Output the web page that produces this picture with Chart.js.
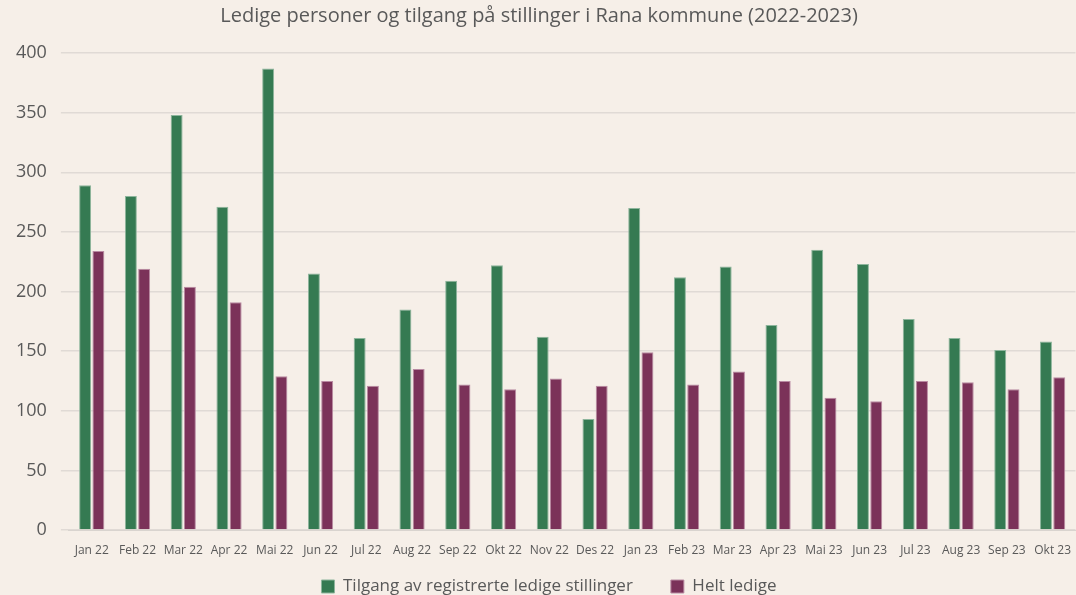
<!DOCTYPE html>
<html>
<head>
<meta charset="utf-8">
<script src="https://cdn.jsdelivr.net/npm/chart.js@4/dist/chart.umd.min.js"></script>
<style>
  html, body { margin: 0; padding: 0; background: #F6EFE8; }
  #wrap { width: 1076px; height: 595px; }
</style>
</head>
<body>
<div id="wrap"><canvas id="ledigeChart"></canvas></div>
<script>
// Måneder og verdier
const months = ["Jan 22", "Feb 22", "Mar 22", "Apr 22", "Mai 22", "Jun 22", "Jul 22", "Aug 22", "Sep 22", "Okt 22", "Nov 22",
  "Des 22", "Jan 23", "Feb 23", "Mar 23", "Apr 23", "Mai 23", "Jun 23", "Jul 23", "Aug 23", "Sep 23", "Okt 23"];
const tilgang = [289, 280, 348, 271, 387, 215, 161, 185, 209, 222, 162, 93, 270, 212, 221, 172, 235, 223, 177, 161, 151, 158];
const heltLedige = [234, 219, 204, 191, 129, 125, 121, 135, 122, 118, 127, 121, 149, 122, 133, 125, 111, 108, 125, 124, 118, 128];
const yTicks = [0, 50, 100, 150, 200, 250, 300, 350, 400];

const textColor = "#595959";
const fontFam = "'Open Sans', 'Noto Sans', sans-serif";

// Legenden: stort mellomrom mellom elementene, men lav høyde
const compactLegend = {
  id: "compactLegend",
  afterInit(chart) {
    const lg = chart.legend;
    const fit = lg.fit.bind(lg);
    const drawItems = lg._draw.bind(lg);
    lg.fit = function () {
      fit();
      this.height -= 30;
    };
    lg._draw = function () {
      chart.ctx.save();
      chart.ctx.translate(10, -20);
      drawItems();
      chart.ctx.restore();
    };
  },
};

const ctx = document.getElementById("ledigeChart").getContext("2d");
const chart = new Chart(ctx, {
  type: "bar",
  data: {
    labels: months,
    datasets: [
      {
        label: "Tilgang av registrerte ledige stillinger",
        data: tilgang,
        backgroundColor: "#357A52",
        borderColor: "#8DB59C",
        borderWidth: 1,
        categoryPercentage: 0.58,
        barPercentage: 0.9,
      },
      {
        label: "Helt ledige",
        data: heltLedige,
        backgroundColor: "#7B3259",
        borderColor: "#B98AA2",
        borderWidth: 1,
        categoryPercentage: 0.58,
        barPercentage: 0.9,
      },
    ],
  },
  options: {
    responsive: true,
    maintainAspectRatio: false,
    animation: false,
    layout: { padding: { left: 2, right: 0, top: 4, bottom: 0 } },
    plugins: {
      title: {
        display: true,
        text: "Ledige personer og tilgang på stillinger i Rana kommune (2022-2023)",
        color: textColor,
        font: { family: fontFam, size: 20, weight: "normal" },
        padding: { top: 0, bottom: 25 },
      },
      legend: {
        position: "bottom",
        labels: {
          color: textColor,
          boxWidth: 13,
          boxHeight: 13,
          padding: 38,
          font: { family: fontFam, size: 17 },
        },
      },
      tooltip: { enabled: true },
    },
    scales: {
      x: {
        grid: { display: false },
        border: { color: "#D9D4CF" },
        afterFit: (scale) => {
          scale.height = 30;
        },
        ticks: {
          color: textColor,
          maxRotation: 0,
          autoSkip: false,
          padding: 5,
          font: { family: fontFam, size: 12 },
        },
      },
      y: {
        min: 0,
        max: 400,
        afterBuildTicks: (axis) => {
          axis.ticks = yTicks.map((v) => ({ value: v }));
        },
        grid: { color: "#E0DAD5", lineWidth: 1.5 },
        border: { display: false },
        ticks: {
          color: textColor,
          padding: 14,
          font: { family: fontFam, size: 18 },
        },
      },
    },
  },
  plugins: [compactLegend],
});
</script>
</body>
</html>
